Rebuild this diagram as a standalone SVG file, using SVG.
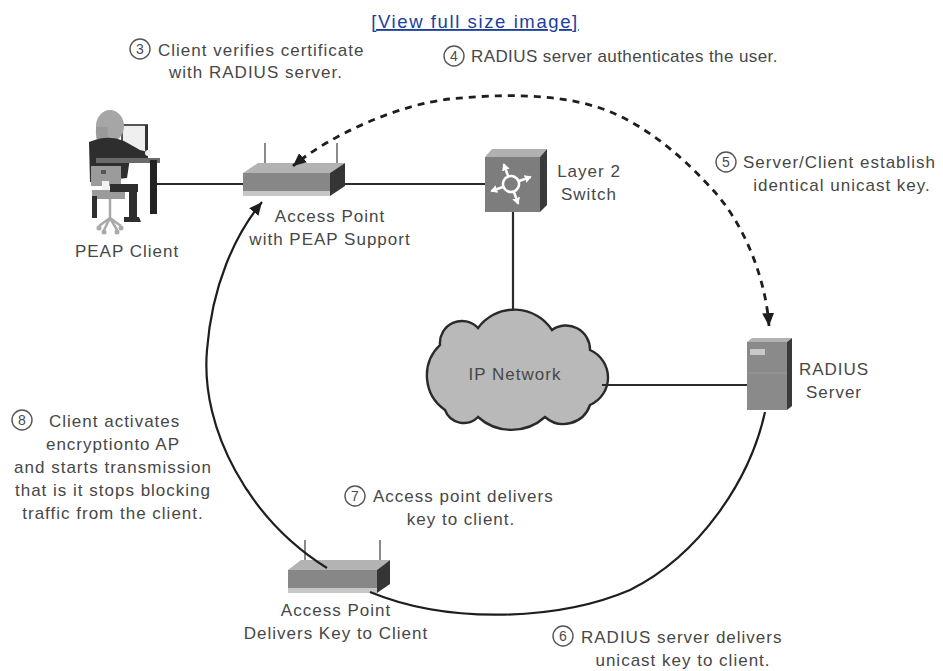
<svg xmlns="http://www.w3.org/2000/svg" width="943" height="671" viewBox="0 0 943 671">
  <style>
    .t { font-family: "Liberation Sans", Arial, Helvetica, sans-serif; font-size: 17px; fill: #474747; letter-spacing: 1px; }
    .mid { text-anchor: middle; }
    .num { font-family: "Liberation Sans", Arial, sans-serif; font-size: 14px; fill: #4a4a4a; text-anchor: middle; }
    .ring { fill: none; stroke: #555; stroke-width: 1.4; }
    .link { font-family: "Liberation Sans", Arial, sans-serif; font-size: 18.5px; fill: #1b3f9e; letter-spacing: 1.6px; text-decoration: underline; }
    .wire { fill: none; stroke: #2b2b2b; stroke-width: 2.2; }
    .flow { fill: none; stroke: #1e1e1e; stroke-width: 2.2; }
    .dash { fill: none; stroke: #1e1e1e; stroke-width: 2.8; stroke-dasharray: 7 6; }
    .ap-top { fill: #b3b3b3; }
    .ap-front { fill: #878787; }
    .ap-strip { fill: #c6c6c6; }
    .ap-side { fill: #353535; }
    .ant { stroke: #8a8a8a; stroke-width: 2; }
  </style>
  <defs>
    <marker id="ah" markerUnits="userSpaceOnUse" markerWidth="14" markerHeight="12" refX="13" refY="6" orient="auto-start-reverse">
      <path d="M0,0 L13,6 L0,12 Z" fill="#1e1e1e"/>
    </marker>
    <marker id="wa" markerUnits="userSpaceOnUse" markerWidth="8" markerHeight="8" refX="6" refY="4" orient="auto">
      <path d="M0,0 L7,4 L0,8 Z" fill="#ffffff"/>
    </marker>
  </defs>

  <rect width="943" height="671" fill="#ffffff"/>

  <!-- page link -->
  <text class="link" x="475" y="28" text-anchor="middle">[View full size image]</text>

  <!-- PEAP client workstation -->
  <g id="peap-client">
    <!-- monitor -->
    <rect x="122" y="125" width="25" height="33" fill="#efefef" stroke="#555" stroke-width="2"/>
    <rect x="145" y="125" width="3" height="33" fill="#333"/>
    <!-- head -->
    <ellipse cx="110" cy="126" rx="14" ry="16" fill="#a6a6a6"/>
    <path d="M96 127 Q95 140 100 147 L113 147 Q106 138 108 127 Z" fill="#9a9a9a"/>
    <!-- torso and arm -->
    <path d="M89 142 Q108 134 124 141 L140 150 L148 152 L147 158 L130 158 L127 178 L90 182 Z" fill="#2e2e2e"/>
    <circle cx="148" cy="153" r="3" fill="#eeeeee"/>
    <!-- desk -->
    <rect x="96" y="158" width="64" height="5" fill="#6a6a6a"/>
    <rect x="150" y="160" width="7" height="54" fill="#222"/>
    <!-- chair back -->
    <rect x="91" y="166" width="30" height="20" fill="#9b9b9b"/>
    <rect x="101" y="170" width="5" height="4" fill="#555"/>
    <rect x="102" y="181" width="7" height="10" fill="#f2f2f2"/>
    <!-- legs and seat -->
    <rect x="92" y="190" width="33" height="9" fill="#9b9b9b"/>
    <rect x="110" y="184" width="28" height="8" fill="#2e2e2e"/>
    <rect x="129" y="188" width="8" height="31" fill="#2e2e2e"/>
    <path d="M124 217 L139 217 L141 222 L124 222 Z" fill="#2e2e2e"/>
    <rect x="92" y="196" width="5" height="22" fill="#2e2e2e"/>
    <!-- chair base -->
    <g stroke="#a9a9a9" stroke-width="2.5" fill="none">
      <line x1="110" y1="199" x2="110" y2="218"/>
      <path d="M110 218 L99 226 M110 218 L121 226 M110 218 L104 230 M110 218 L117 230"/>
    </g>
    <g fill="#a9a9a9">
      <circle cx="99" cy="228" r="2.5"/><circle cx="121" cy="228" r="2.5"/>
      <circle cx="104" cy="232" r="2.5"/><circle cx="117" cy="232" r="2.5"/>
    </g>
    <text class="t mid" x="127" y="257">PEAP Client</text>
  </g>

  <!-- access point with PEAP support -->
  <g id="ap-peap">
    <line class="ant" x1="265" y1="143" x2="265" y2="167"/>
    <line class="ant" x1="337" y1="143" x2="337" y2="166"/>
    <polygon class="ap-top" points="243,173 330,173 345,163 258,163"/>
    <rect class="ap-front" x="243" y="173" width="87" height="22"/>
    <rect class="ap-strip" x="243" y="191" width="87" height="5"/>
    <polygon class="ap-side" points="330,173 345,163 345,186 330,196"/>
    <text class="t mid" x="330" y="222">Access Point</text>
    <text class="t mid" x="330" y="245">with PEAP Support</text>
  </g>

  <!-- layer 2 switch -->
  <g id="l2-switch">
    <polygon points="485,157 540,157 547,149 492,149" fill="#b0b0b0"/>
    <rect x="485" y="157" width="55" height="55" fill="#7d7d7d"/>
    <polygon points="540,157 547,149 547,205 540,212" fill="#3a3a3a"/>
    <g transform="rotate(-20 511 184)" stroke="#ffffff" stroke-width="2.5" fill="none">
      <circle cx="511" cy="184" r="8"/>
      <line x1="511" y1="176" x2="511" y2="163" marker-end="url(#wa)"/>
      <line x1="519" y1="184" x2="532" y2="184" marker-end="url(#wa)"/>
      <line x1="511" y1="192" x2="511" y2="205" marker-end="url(#wa)"/>
      <line x1="503" y1="184" x2="490" y2="184" marker-end="url(#wa)"/>
    </g>
    <text class="t mid" x="589" y="177">Layer 2</text>
    <text class="t mid" x="589" y="200">Switch</text>
  </g>

  <!-- IP network cloud -->
  <g id="ip-network">
    <path d="M440 345 A22 22 0 0 1 478 328 A45 45 0 0 1 552 330 A24 24 0 0 1 590 350 A30 30 0 0 1 590 405 A28 28 0 0 1 545 417 A50 50 0 0 1 478 417 A20 20 0 0 1 445 410 A42 42 0 0 1 440 345 Z" fill="#b9b9b9" stroke="#2a2a2a" stroke-width="2.4"/>
    <text class="t mid" x="515" y="380">IP Network</text>
  </g>

  <!-- RADIUS server -->
  <g id="radius-server">
    <polygon points="747,342 787,342 792,338 752,338" fill="#b3b3b3"/>
    <rect x="747" y="342" width="40" height="68" fill="#8a8a8a"/>
    <line x1="747" y1="373" x2="787" y2="373" stroke="#9a9a9a" stroke-width="1"/>
    <rect x="750" y="349" width="15" height="6" fill="#c8c8c8"/>
    <polygon points="787,342 792,338 792,406 787,410" fill="#3a3a3a"/>
    <text class="t mid" x="834" y="375">RADIUS</text>
    <text class="t mid" x="834" y="398">Server</text>
  </g>

  <!-- access point delivering the key -->
  <g id="ap-delivery">
    <line class="ant" x1="305" y1="540" x2="305" y2="563"/>
    <line class="ant" x1="380" y1="540" x2="380" y2="562"/>
    <polygon class="ap-top" points="288,570 377,570 390,560 301,560"/>
    <rect class="ap-front" x="288" y="570" width="89" height="22"/>
    <rect class="ap-strip" x="288" y="588" width="89" height="5"/>
    <polygon class="ap-side" points="377,570 390,560 390,584 377,593"/>
    <text class="t mid" x="336" y="616">Access Point</text>
    <text class="t mid" x="336" y="639">Delivers Key to Client</text>
  </g>

  <!-- links and message flows -->
  <g id="connectors">
    <line class="wire" x1="157" y1="184" x2="243" y2="184"/>
    <line class="wire" x1="345" y1="184" x2="485" y2="184"/>
    <line class="wire" x1="513" y1="212" x2="513" y2="311"/>
    <line class="wire" x1="602" y1="385" x2="747" y2="385"/>
    <path class="dash" d="M769 326 C766 280 745 225 713 190 C690 165 650 125 600 108 C555 93 500 94 450 99 C400 104 330 135 293 166" marker-start="url(#ah)" marker-end="url(#ah)"/>
    <path class="flow" d="M327 568 C250 520 200 430 207 350 C212 285 235 235 262 202" marker-end="url(#ah)"/>
    <path class="flow" d="M370 592 C450 625 560 620 630 590 C700 555 750 480 765 412"/>
  </g>

  <!-- numbered step notes -->
  <g id="step-3">
    <circle class="ring" cx="140" cy="49" r="10"/>
    <text class="num" x="140" y="54">3</text>
    <text class="t" x="158" y="56">Client verifies certificate</text>
    <text class="t mid" x="256" y="78">with RADIUS server.</text>
  </g>
  <g id="step-4">
    <circle class="ring" cx="454" cy="56" r="10"/>
    <text class="num" x="454" y="61">4</text>
    <text class="t" x="471" y="62" style="letter-spacing:0.4px">RADIUS server authenticates the user.</text>
  </g>
  <g id="step-5">
    <circle class="ring" cx="726" cy="162" r="10"/>
    <text class="num" x="726" y="167">5</text>
    <text class="t" x="743" y="168">Server/Client establish</text>
    <text class="t mid" x="842" y="191">identical unicast key.</text>
  </g>
  <g id="step-6">
    <circle class="ring" cx="563" cy="636" r="10"/>
    <text class="num" x="563" y="641">6</text>
    <text class="t" x="581" y="643">RADIUS server delivers</text>
    <text class="t mid" x="683" y="666">unicast key to client.</text>
  </g>
  <g id="step-7">
    <circle class="ring" cx="355" cy="496" r="10"/>
    <text class="num" x="355" y="501">7</text>
    <text class="t" x="373" y="502">Access point delivers</text>
    <text class="t mid" x="461" y="525">key to client.</text>
  </g>
  <g id="step-8">
    <circle class="ring" cx="22" cy="420" r="10"/>
    <text class="num" x="22" y="425">8</text>
    <text class="t" x="49" y="427">Client activates</text>
    <text class="t mid" x="113" y="450">encryptionto AP</text>
    <text class="t mid" x="113" y="473">and starts transmission</text>
    <text class="t mid" x="113" y="496">that is it stops blocking</text>
    <text class="t mid" x="113" y="519">traffic from the client.</text>
  </g>
</svg>
